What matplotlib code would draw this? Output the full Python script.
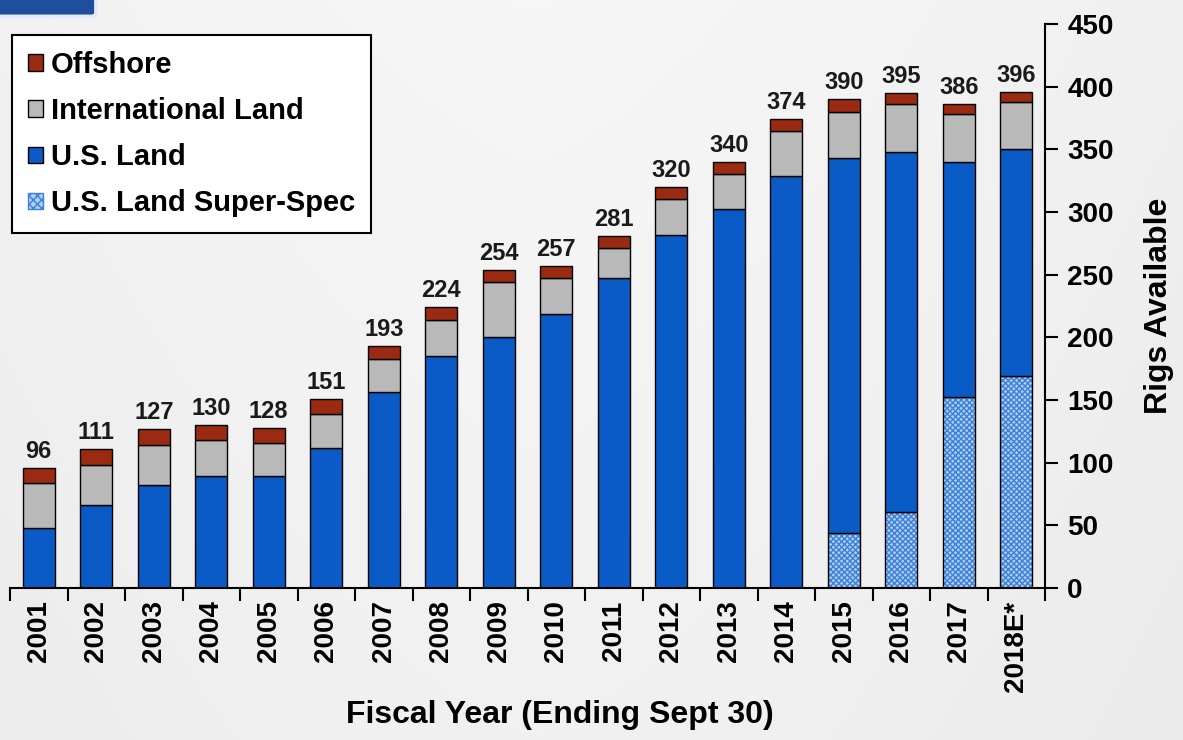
import numpy as np
import matplotlib
matplotlib.use("Agg")
import matplotlib.pyplot as plt
from matplotlib.patches import Patch, FancyBboxPatch

plt.rcParams['font.family'] = ['Liberation Sans', 'DejaVu Sans']
plt.rcParams['font.weight'] = 'bold'

years = ['2001', '2002', '2003', '2004', '2005', '2006', '2007', '2008', '2009',
         '2010', '2011', '2012', '2013', '2014', '2015', '2016', '2017', '2018E*']
super_spec = [0, 0, 0, 0, 0, 0, 0, 0, 0, 0, 0, 0, 0, 0, 44, 61, 152, 169]
us_land = [48, 66, 82, 89, 89, 112, 156, 185, 200, 219, 247, 282, 302, 329, 299, 287, 188, 181]
intl_land = [36, 32, 32, 29, 27, 27, 27, 29, 44, 28, 24, 28, 28, 36, 37, 38, 38, 38]
offshore = [12, 13, 13, 12, 12, 12, 10, 10, 10, 10, 10, 10, 10, 9, 10, 9, 8, 8]
totals = [96, 111, 127, 130, 128, 151, 193, 224, 254, 257, 281, 320, 340, 374, 390, 395, 386, 396]

c_off = '#9b2a12'
c_intl = '#b9b9b9'
c_us = '#0b5bc6'
c_ss = '#a9d0f5'
c_hatch = '#3f7fd6'

fig = plt.figure(figsize=(11.83, 7.4), dpi=100)

# light grey background, a little darker towards the left and right edges
bg = fig.add_axes([0, 0, 1, 1], zorder=-10)
gx = np.linspace(0, 1, 300)
gy = np.linspace(0, 1, 200)
X, Y = np.meshgrid(gx, gy)
lum = 0.965 - 0.06 * np.abs(X - 0.45) ** 1.5 - 0.02 * Y
img = np.dstack([lum, lum, lum])
bg.imshow(img, aspect='auto', extent=[0, 1, 0, 1])
bg.set_xlim(0, 1)
bg.set_ylim(0, 1)
bg.axis('off')
bg.add_patch(FancyBboxPatch((-0.02, 0.982), 0.097, 0.04, boxstyle='round,pad=0.004',
                            fc='#1d4f9c', ec='#e3eaf5', lw=2.5))

ax = fig.add_axes([10 / 1183, (740 - 588) / 740, 1035 / 1183, (588 - 24) / 740])
ax.set_facecolor('none')

x = np.arange(len(years))
w = 0.56
ss = np.array(super_spec)
us = np.array(us_land)
il = np.array(intl_land)
of = np.array(offshore)

ax.bar(x, ss, w, color=c_ss, hatch='xxxxxx', edgecolor=c_hatch, linewidth=0)
ax.bar(x, ss, w, fill=False, edgecolor='black', linewidth=1.0)
ax.bar(x, us, w, bottom=ss, color=c_us, edgecolor='black', linewidth=1.0)
ax.bar(x, il, w, bottom=ss + us, color=c_intl, edgecolor='black', linewidth=1.0)
ax.bar(x, of, w, bottom=ss + us + il, color=c_off, edgecolor='black', linewidth=1.0)

for i, t in enumerate(totals):
    ax.text(x[i], ss[i] + us[i] + il[i] + of[i] + 4, str(t), ha='center', va='bottom',
            fontsize=17, fontweight='bold', color='#1a1a1a')

ax.set_xlim(-0.5, len(years) - 0.5)
ax.set_ylim(0, 450)
ax.set_yticks(np.arange(0, 451, 50))
ax.yaxis.tick_right()
ax.yaxis.set_label_position('right')
ax.tick_params(axis='y', direction='out', length=9, width=1.5, labelsize=20, pad=7)
ax.set_ylabel('Rigs Available', fontsize=23, fontweight='bold', labelpad=22)

ax.set_xticks(x)
ax.set_xticklabels(years, rotation=90, fontsize=20, fontweight='bold')
ax.tick_params(axis='x', length=0, pad=9)
ax.set_xticks(np.arange(-0.5, len(years), 1), minor=True)
ax.tick_params(axis='x', which='minor', direction='out', length=9, width=1.5)
ax.set_xlabel('Fiscal Year (Ending Sept 30)', fontsize=23, fontweight='bold')
ax.xaxis.set_label_coords(0.531, -0.198)

for s in ['top', 'left']:
    ax.spines[s].set_visible(False)
ax.spines['bottom'].set_linewidth(1.5)
ax.spines['right'].set_linewidth(1.5)

handles = [Patch(facecolor=c_off, edgecolor='black', label='Offshore'),
           Patch(facecolor=c_intl, edgecolor='black', label='International Land'),
           Patch(facecolor=c_us, edgecolor='black', label='U.S. Land'),
           Patch(facecolor=c_ss, edgecolor=c_hatch, hatch='xxxx', label='U.S. Land Super-Spec')]
leg = fig.legend(handles=handles, loc='upper left', bbox_to_anchor=(12 / 1183, 1 - 35 / 740),
                 borderaxespad=0, fontsize=21, frameon=True, fancybox=False,
                 handlelength=0.5, handleheight=0.5, handletextpad=0.28,
                 labelspacing=0.62, borderpad=0.55)
leg.get_frame().set_edgecolor('black')
leg.get_frame().set_linewidth(1.5)
leg.get_frame().set_facecolor('white')
leg.get_frame().set_alpha(1)

fig.savefig('out.png', dpi=100)
